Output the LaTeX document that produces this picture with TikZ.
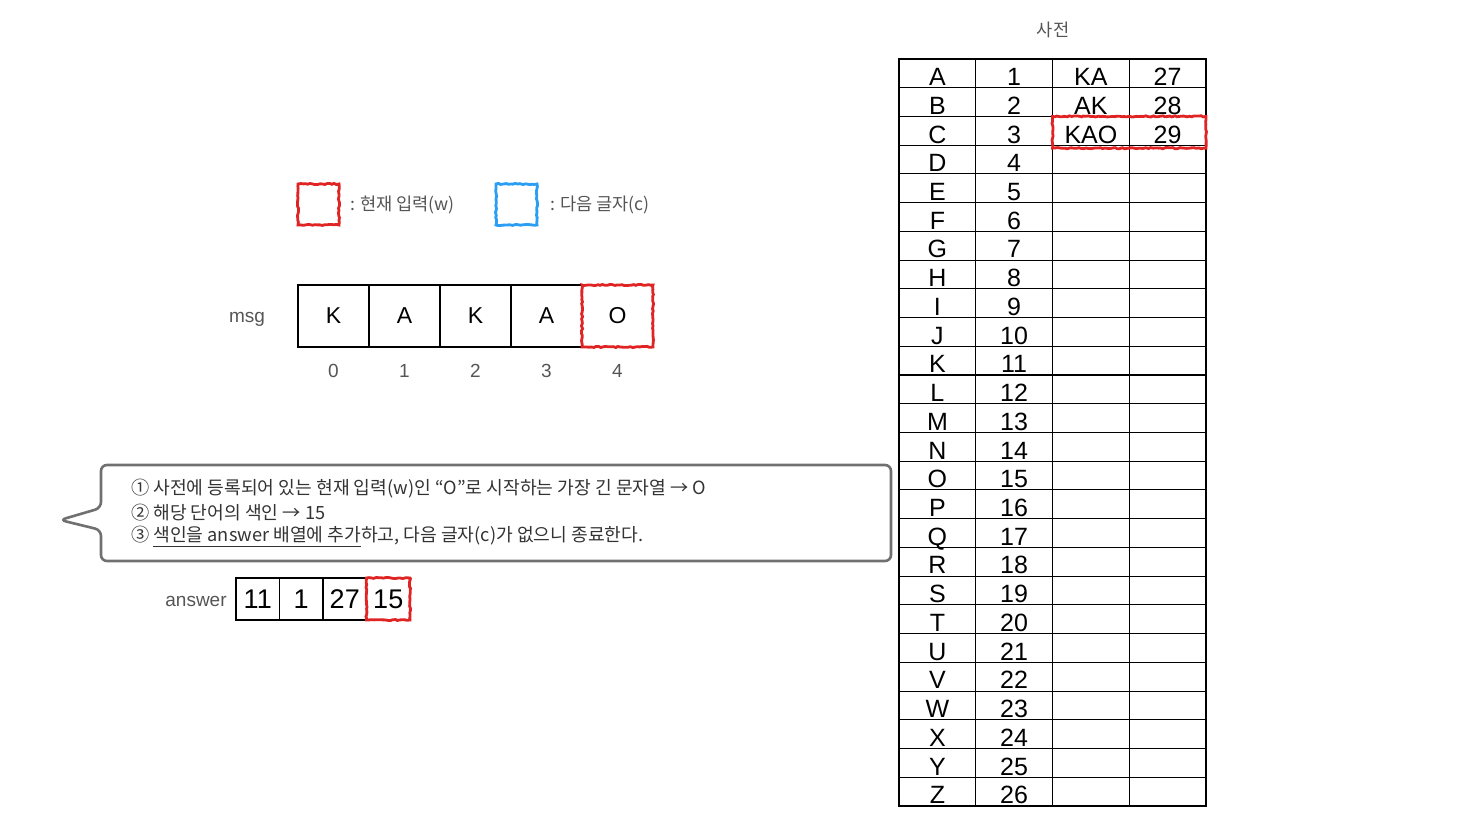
\documentclass[tikz,border=0pt]{standalone}
\usepackage{fontspec}
\setmainfont{Liberation Sans}
\newfontfamily\krfont{Noto Sans CJK KR}
\usepackage{tikz}
\usetikzlibrary{decorations.pathmorphing}
\definecolor{labelgray}{HTML}{555555}
\definecolor{notegray}{HTML}{707070}
\definecolor{markred}{HTML}{E02424}
\definecolor{markblue}{HTML}{2A9DF4}
\tikzset{
  cell/.style={draw, line width=0.55pt, inner sep=0pt, outer sep=0pt},
  msgcell/.style={cell, minimum width=35.5pt, minimum height=31pt, font=\fontsize{11.5}{13}\selectfont},
  anscell/.style={cell, minimum width=21.75pt, minimum height=21pt, font=\fontsize{13.5}{15}\selectfont},
  dicttext/.style={inner sep=0pt, outer sep=0pt, text height=12.2pt, text depth=0pt, font=\fontsize{12.5}{14}\selectfont},
  dictcell/.style={dicttext, draw, line width=0.55pt, minimum width=38.375pt, minimum height=14.365pt},
  graylabel/.style={text=labelgray, font=\fontsize{9.5}{11}\selectfont},
  krlabel/.style={text=labelgray, font=\krfont\fontsize{8.8}{11}\selectfont},
  notetext/.style={krlabel, text=black!80, font=\krfont\fontsize{9.1}{11}\selectfont},
  hlbox/.style={line width=1.4pt, decorate, decoration={random steps, segment length=1.2pt, amplitude=0.3pt}},
}
\pgfmathsetseed{7}
\begin{document}
\begin{tikzpicture}[x=0.5pt, y=-0.5pt]
  \useasboundingbox (0,0) rectangle (1465,822);
  % legend
  \node[hlbox, draw=markred, minimum size=20.5pt, inner sep=0pt] (legw) at (318.5,204.5) {};
  \node[krlabel, anchor=west] (legwtxt) at (343,204.5) {: 현재 입력(w)};
  \node[hlbox, draw=markblue, minimum size=20.5pt, inner sep=0pt] (legc) at (516.5,204.5) {};
  \node[krlabel, anchor=west] (legctxt) at (543,204.5) {: 다음 글자(c)};
  % msg array
  \node[graylabel] (msglbl) at (247,319) {msg};
  \foreach \ch [count=\i from 0] in {K,A,K,A,O} {
    \node[msgcell] (m\i) at ({333.5+71*\i},316) {\ch};
    \node[graylabel] (idx\i) at ({333.5+71*\i},370.5) {\i};
  }
  \draw[hlbox, markred] (m4.north west) rectangle (m4.south east);
  % note
  \draw[notegray, line width=1.3pt, rounded corners=3pt]
    (101,508) -- (101,465) -- (891,465) -- (891,561) -- (101,561) -- (101,530) -- (60,520) -- cycle;
  \node[notetext, anchor=west] (note1) at (124,489) {① 사전에 등록되어 있는 현재 입력(w)인 “O”로 시작하는 가장 긴 문자열 → O};
  \node[notetext, anchor=west] (note2) at (124,513) {② 해당 단어의 색인 → 15};
  \node[notetext, anchor=west] (note3) at (124,537) {③ \underline{색인을 answer 배열에 추가}하고, 다음 글자(c)가 없으니 종료한다.};
  % answer array
  \node[graylabel] (anslbl) at (196,601) {answer};
  \foreach \v [count=\i from 0] in {11,1,27,15}
    \node[anscell] (a\i) at ({257.75+43.5*\i},599) {\v};
  \draw[hlbox, markred] (a3.north west) rectangle (a3.south east);
  % dictionary
  \node[krlabel] (dicttitle) at (1053,30) {사전};
  \foreach \ch [count=\n] in {A,B,C,D,E,F,G,H,I,J,K,L,M,N,O,P,Q,R,S,T,U,V,W,X,Y,Z} {
    \node[dictcell] (k\n) at (937.4,{59+28.73*(\n-0.5)}) {\ch};
    \node[dictcell] (v\n) at (1014.1,{59+28.73*(\n-0.5)}) {\n};
    \node[dictcell] (s\n) at (1090.9,{59+28.73*(\n-0.5)}) {};
    \node[dictcell] (t\n) at (1167.6,{59+28.73*(\n-0.5)}) {};
  }
  \foreach \w/\num [count=\r] in {KA/27,AK/28,KAO/29} {
    \node[dicttext] (sw\r) at (s\r) {\w};
    \node[dicttext] (tw\r) at (t\r) {\num};
  }
  \draw[hlbox, markred] (s3.north west) rectangle ([yshift=-1.5pt]t3.south east);
\end{tikzpicture}
\end{document}
